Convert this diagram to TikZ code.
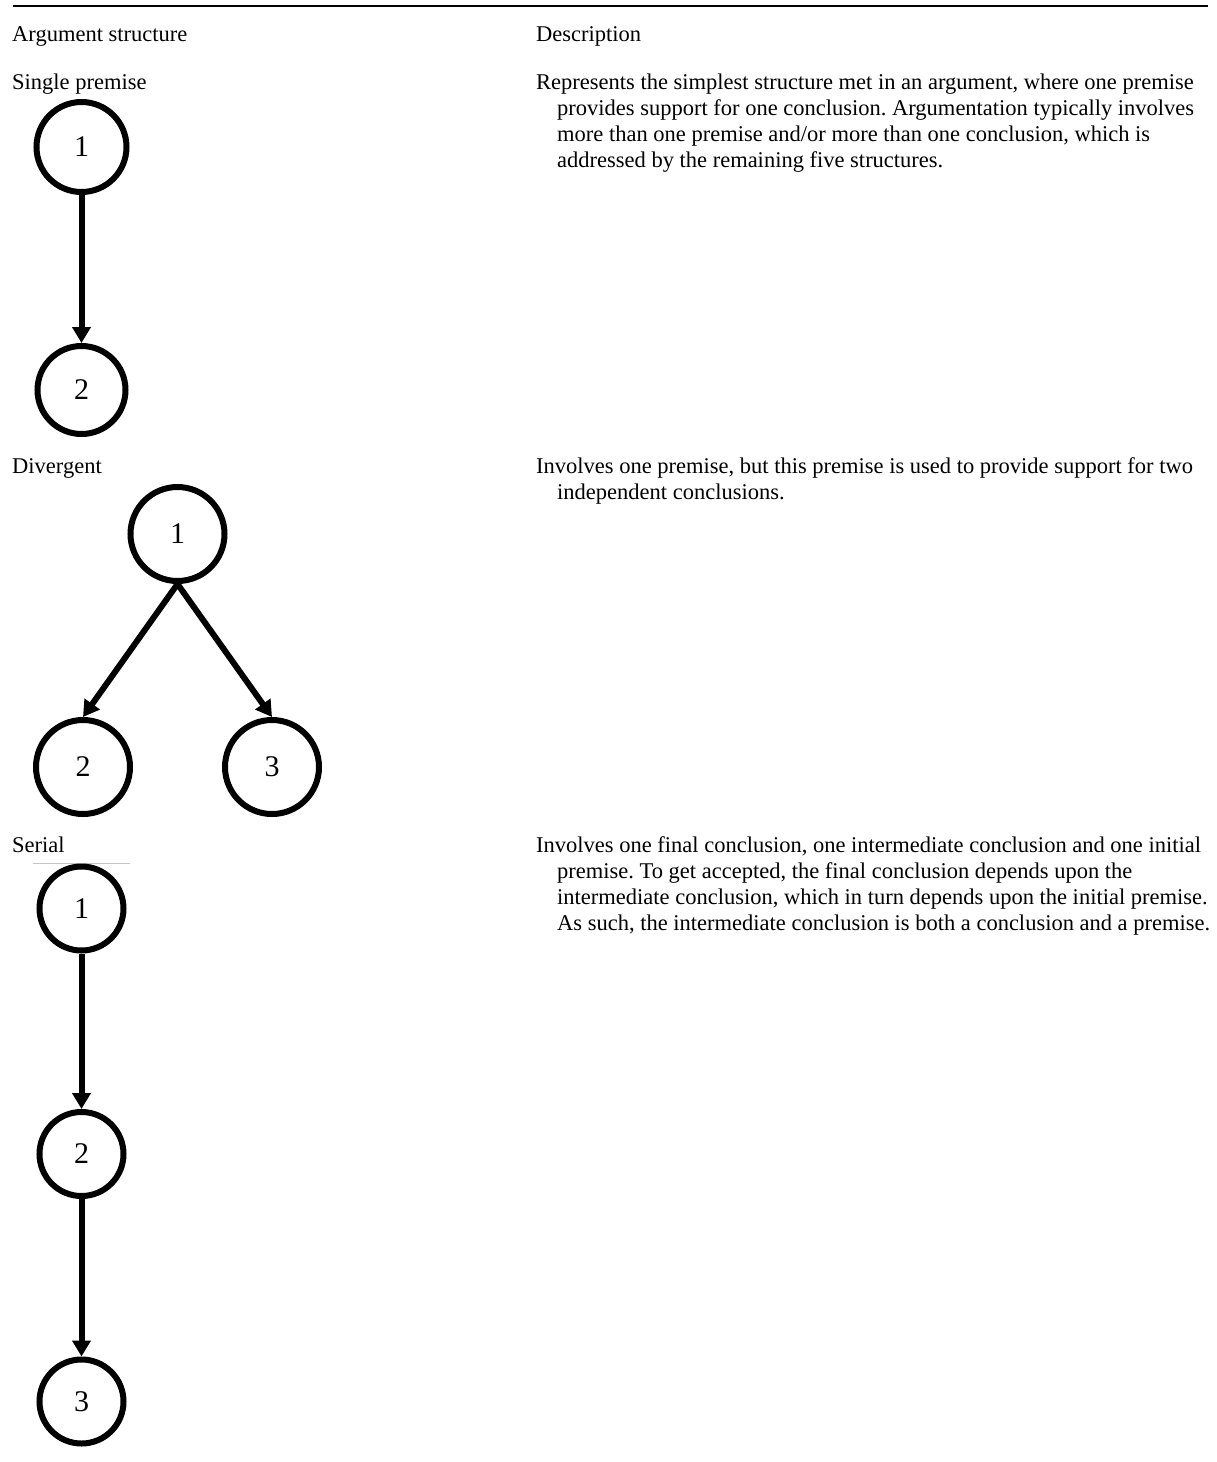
\documentclass[tikz,border=0pt]{standalone}
\usepackage{fontspec}
\setmainfont{Liberation Serif}
\usetikzlibrary{arrows.meta}

\tikzset{
  label text/.style={anchor=base west, inner sep=0pt, font=\fontsize{22.5}{26}\selectfont},
  claim/.style={circle, draw, line width=6pt, inner sep=0pt, font=\fontsize{30}{30}\selectfont},
  support/.style={line width=6pt, -{Triangle[length=16pt,width=18pt]}},
}
\newcommand{\descpar}[1]{\parbox[t]{700pt}{\fontsize{22.5}{26}\selectfont\frenchspacing\hangindent=21pt\hangafter=1 #1}}

\begin{document}
\begin{tikzpicture}[x=1pt,y=-1pt]
\useasboundingbox (0,0) rectangle (1217,1462);

% table rule and column heads
\draw[line width=2.5pt] (12.5,6) coordinate (ruleL) -- (1208,6) coordinate (ruleR);
\node[label text] (headA) at (12,41) {Argument structure};
\node[label text] (headB) at (536,41) {Description};

% single premise
\node[label text] (lblSingle) at (12,89) {Single premise};
\node[claim, minimum size=90pt] (s1) at (81.5,147) {1};
\node[claim, minimum size=88pt] (s2) at (81.5,390) {2};
\draw[support] (s1.south) -- (s2.north);
\node[label text] (descSingle) at (536,89) {\descpar{Represents the simplest structure met in an argument, where one premise\newline
provides support for one conclusion. Argumentation typically involves\newline
more than one premise and/or more than one conclusion, which is\newline
addressed by the remaining five structures.}};

% divergent
\node[label text] (lblDiv) at (12,473) {Divergent};
\node[claim, minimum size=94pt] (d1) at (177.5,534) {1};
\node[claim, minimum size=94pt] (d2) at (83,767) {2};
\node[claim, minimum size=94pt] (d3) at (272,767) {3};
\draw[support] (d1.south) -- (d2.north);
\draw[support] (d1.south) -- (d3.north);
\node[label text] (descDiv) at (536,473) {\descpar{Involves one premise, but this premise is used to provide support for two\newline
independent conclusions.}};

% serial
\node[label text] (lblSer) at (12,852) {Serial};
\draw[gray!45, line width=1pt] (33,863) coordinate (sepL) -- (130,863) coordinate (sepR);
\node[claim, minimum size=84pt] (r1) at (81.5,908.5) {1};
\node[claim, minimum size=84pt] (r2) at (81.5,1154) {2};
\node[claim, minimum size=84pt] (r3) at (81.5,1401.5) {3};
\draw[support] (r1.south) -- (r2.north);
\draw[support] (r2.south) -- (r3.north);
\node[label text] (descSer) at (536,852) {\descpar{Involves one final conclusion, one intermediate conclusion and one initial\newline
premise. To get accepted, the final conclusion depends upon the\newline
intermediate conclusion, which in turn depends upon the initial premise.\newline
As such, the intermediate conclusion is both a conclusion and a premise.}};
\end{tikzpicture}
\end{document}
